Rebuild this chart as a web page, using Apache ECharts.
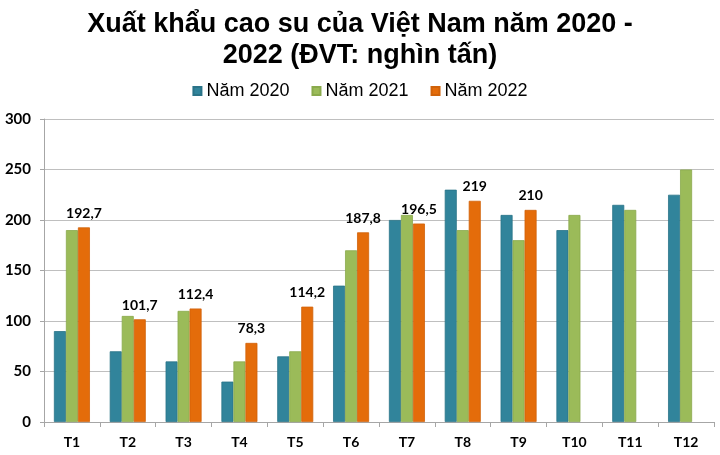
<!DOCTYPE html>
<html>
<head>
<meta charset="utf-8">
<script src="https://cdn.jsdelivr.net/npm/echarts@6/dist/echarts.min.js"></script>
<style>html,body{margin:0;padding:0;background:#fff}#c{width:720px;height:455px}</style>
</head>
<body>
<div id="c"></div>
<script>
const categories = ['T1','T2','T3','T4','T5','T6','T7','T8','T9','T10','T11','T12'];
const seriesNames = ['Năm 2020','Năm 2021','Năm 2022'];
const values2020 = [90, 70, 60, 40, 65, 135, 200, 230, 205, 190, 215, 225];
const values2021 = [190, 105, 110, 60, 70, 170, 205, 190, 180, 205, 210, 250];
const values2022 = [192.7, 101.7, 112.4, 78.3, 114.2, 187.8, 196.5, 219, 210, null, null, null];
const yTicks = [0, 50, 100, 150, 200, 250, 300];

const colors = ['#31849B', '#9BBB59', '#E46C0A'];
const borders = ['#2A7388', '#8AAA4C', '#D0620A'];
const chart = echarts.init(document.getElementById('c'));
const numFont = 'Lato, "Liberation Sans", sans-serif';
function mk(i, data, labeled) {
  return {
    name: seriesNames[i], type: 'bar', data: data,
    barWidth: 12, barGap: '0%',
    itemStyle: { color: colors[i], borderColor: borders[i], borderWidth: 0.8 },
    label: labeled ? {
      show: true, position: 'top', distance: 7,
      color: '#000', fontWeight: 'bold', fontSize: 14, fontFamily: numFont,
      formatter: p => String(p.value).replace('.', ',')
    } : { show: false }
  };
}
chart.setOption({
  animation: false,
  color: colors,
  title: {
    text: 'Xuất khẩu cao su của Việt Nam năm 2020 -\n2022 (ĐVT: nghìn tấn)',
    left: 'center', top: 4,
    textStyle: { fontFamily: '"Liberation Sans", Arial, sans-serif', fontWeight: 'bold', fontSize: 27, lineHeight: 31, color: '#000' }
  },
  legend: {
    top: 77, left: 'center', itemWidth: 8, itemHeight: 8, itemGap: 22,
    icon: 'rect',
    textStyle: { fontFamily: '"Liberation Sans", Arial, sans-serif', fontSize: 18, color: '#000', padding: [0,0,0,0] },
    data: seriesNames
  },
  grid: { left: 44, right: 6, top: 119, bottom: 33 },
  xAxis: {
    type: 'category', data: categories,
    axisLine: { lineStyle: { color: '#A6A6A6', width: 1 } },
    axisTick: { show: true, length: 5, lineStyle: { color: '#A6A6A6' } },
    axisLabel: { color: '#000', fontWeight: 'bold', fontSize: 14, fontFamily: numFont, margin: 13 }
  },
  yAxis: {
    type: 'value', min: yTicks[0], max: yTicks[yTicks.length-1], interval: 50,
    axisLine: { show: true, lineStyle: { color: '#A6A6A6' } },
    axisTick: { show: true, length: 4, lineStyle: { color: '#A6A6A6' } },
    splitLine: { lineStyle: { color: '#BFBFBF', width: 1 } },
    axisLabel: { color: '#000', fontWeight: 'bold', fontSize: 15, fontFamily: numFont, margin: 13 }
  },
  series: [mk(0, values2020, false), mk(1, values2021, false), mk(2, values2022, true)]
});
</script>
</body>
</html>
